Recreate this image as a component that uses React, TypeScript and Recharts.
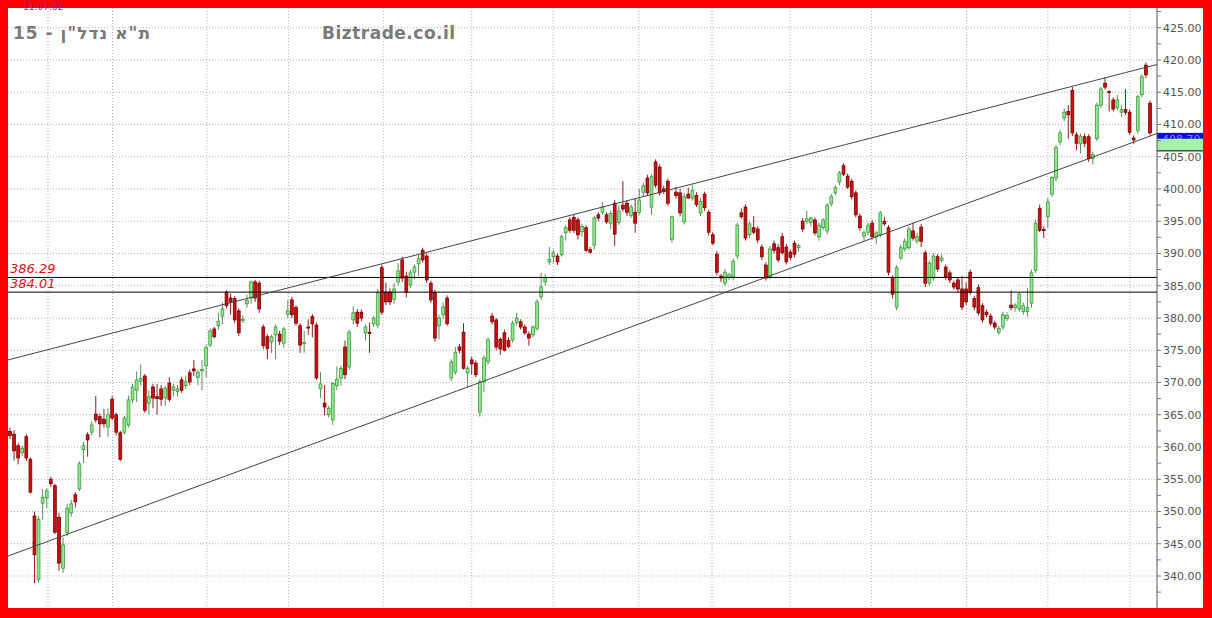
import {
  Bar,
  CartesianGrid,
  ComposedChart,
  ReferenceLine,
  XAxis,
  YAxis,
} from 'recharts'

// daily OHLC, grouped by month (between the vertical gridlines): [open, high, low, close]
type Ohlc = [number, number, number, number]

const seg00: Ohlc[] = [
  [362.4, 363.0, 361.2, 361.8], [362.0, 362.6, 357.9, 359.4], [360.2, 360.6, 357.3, 358.3],
  [359.1, 360.2, 358.6, 359.8], [361.6, 362.0, 357.8, 358.3], [358.1, 358.4, 352.8, 353.0],
  [349.3, 350.0, 338.9, 343.3], [339.5, 349.3, 339.0, 348.8], [351.3, 353.5, 348.7, 352.2],
  [352.1, 353.6, 350.5, 353.2],
]
const seg01: Ohlc[] = [
  [355.0, 355.4, 353.8, 354.3], [354.0, 354.3, 346.5, 346.8], [349.1, 349.8, 340.8, 342.0],
  [341.2, 346.0, 340.5, 344.8], [346.7, 351.2, 346.2, 350.5], [349.8, 351.8, 349.2, 351.2],
  [352.6, 353.0, 350.6, 351.5], [353.5, 357.8, 353.2, 357.4], [359.6, 360.8, 357.5, 360.2],
  [361.9, 362.3, 358.5, 361.1], [362.3, 364.0, 361.8, 363.4], [365.1, 367.9, 363.8, 364.2],
  [364.7, 365.2, 361.5, 363.6], [364.3, 365.9, 363.0, 363.6], [363.1, 366.0, 361.6, 365.0],
  [367.4, 367.9, 364.2, 364.5],
]
const seg02: Ohlc[] = [
  [365.0, 365.3, 361.8, 362.3], [362.2, 362.5, 357.8, 358.1], [362.3, 364.8, 361.9, 364.5],
  [363.4, 368.0, 363.0, 367.3], [367.3, 369.8, 366.8, 369.3], [368.8, 371.7, 367.0, 370.4],
  [370.2, 372.8, 369.5, 370.6], [371.0, 371.3, 365.3, 365.7], [366.8, 368.8, 365.0, 367.8],
  [369.3, 369.8, 366.0, 367.6], [367.8, 369.8, 365.0, 367.5], [369.0, 369.6, 366.4, 367.4],
  [367.6, 369.5, 366.4, 369.1], [369.9, 370.8, 367.0, 367.4], [368.8, 369.8, 367.8, 369.3],
  [368.6, 369.6, 367.8, 369.0], [370.4, 370.9, 368.4, 368.8], [369.5, 371.0, 369.0, 370.1],
  [371.5, 372.0, 369.6, 370.1], [372.1, 373.5, 371.0, 371.8], [370.8, 372.0, 369.6, 371.6],
  [371.8, 373.5, 368.8, 372.0], [372.6, 375.9, 370.8, 375.4],
]
const seg03: Ohlc[] = [
  [375.8, 378.4, 375.5, 378.0], [378.3, 378.6, 376.8, 377.1], [378.8, 380.8, 378.2, 379.5],
  [380.3, 382.4, 379.0, 381.4], [384.0, 384.3, 381.5, 381.9], [383.1, 383.8, 380.5, 382.5],
  [383.0, 383.4, 379.2, 379.7], [381.1, 381.5, 377.2, 377.7], [379.6, 380.4, 379.2, 379.8],
  [382.2, 383.6, 381.6, 382.7], [383.1, 385.8, 382.2, 385.6], [385.6, 385.9, 382.5, 383.1],
  [385.4, 385.8, 380.8, 381.4], [378.6, 379.0, 375.2, 375.7], [377.1, 377.5, 373.6, 375.3],
  [376.3, 377.4, 374.6, 377.1], [377.4, 379.0, 373.6, 378.6], [377.5, 378.0, 375.8, 376.4],
  [376.1, 378.6, 375.4, 378.3], [380.6, 382.8, 380.0, 381.1],
]
const seg04: Ohlc[] = [
  [382.8, 383.3, 380.0, 380.5], [381.6, 382.0, 378.8, 379.2], [378.8, 379.2, 374.6, 375.8],
  [376.0, 378.0, 374.6, 376.2], [378.6, 379.8, 377.4, 378.5], [380.2, 380.6, 377.0, 379.1],
  [378.9, 379.3, 370.4, 370.7], [369.0, 371.6, 367.6, 369.8], [366.8, 369.6, 364.9, 366.2],
  [365.0, 366.4, 364.6, 366.0], [364.2, 370.0, 363.4, 369.9], [369.5, 372.5, 368.8, 370.5],
  [370.7, 372.6, 369.5, 372.2], [375.5, 376.5, 370.5, 371.2], [372.4, 378.2, 372.0, 377.8],
  [379.7, 381.8, 379.0, 380.8], [380.9, 381.4, 378.6, 379.2], [380.9, 381.3, 379.5, 380.0],
  [377.7, 379.0, 376.5, 378.6], [377.8, 379.3, 374.6, 377.6], [379.1, 380.3, 378.6, 380.0],
  [378.9, 384.5, 378.4, 383.9], [387.8, 388.3, 380.5, 380.9],
]
const seg05: Ohlc[] = [
  [384.0, 385.5, 382.0, 382.5], [384.0, 384.6, 382.0, 382.5], [382.9, 385.4, 382.2, 384.5],
  [385.6, 388.5, 385.0, 387.3], [389.0, 389.5, 385.6, 386.2], [386.5, 387.2, 383.2, 384.0],
  [385.1, 387.5, 384.6, 387.0], [387.1, 388.3, 386.0, 387.9], [388.4, 389.8, 386.5, 389.2],
  [390.5, 390.9, 388.6, 389.0], [389.6, 390.1, 385.4, 385.9], [385.4, 385.8, 382.3, 382.8],
  [383.9, 384.4, 376.3, 376.9], [378.8, 380.5, 376.7, 380.0], [380.5, 382.4, 379.8, 381.7],
  [383.1, 383.5, 378.8, 379.1], [370.7, 373.6, 370.2, 373.2], [371.6, 375.5, 371.2, 374.7],
  [375.5, 376.0, 374.5, 375.0], [377.8, 379.2, 372.0, 372.2], [371.5, 372.6, 369.2, 372.2],
]
const seg06: Ohlc[] = [
  [373.5, 374.0, 371.2, 372.9], [373.0, 373.4, 370.8, 371.2], [365.4, 370.5, 364.7, 370.1],
  [370.1, 374.2, 368.5, 373.8], [373.2, 377.0, 372.8, 376.6], [380.3, 380.8, 379.0, 379.4],
  [379.7, 380.0, 375.0, 375.5], [376.7, 377.0, 374.3, 375.2], [377.7, 378.2, 374.8, 375.0],
  [376.5, 377.0, 375.3, 375.6], [376.6, 379.6, 376.2, 379.2], [379.3, 380.8, 378.8, 380.0],
  [379.4, 379.8, 378.2, 378.6], [378.6, 379.0, 377.4, 377.7], [377.5, 377.9, 375.7, 376.9],
  [377.4, 378.9, 377.0, 378.6], [378.4, 382.9, 378.0, 382.5], [383.3, 387.0, 382.8, 384.8],
  [385.6, 386.8, 385.0, 386.2], [388.7, 391.0, 388.2, 389.1],
]
const seg07: Ohlc[] = [
  [389.5, 390.6, 388.5, 390.1], [389.6, 390.0, 388.2, 388.7], [389.8, 392.9, 389.5, 392.6],
  [393.2, 394.4, 392.0, 394.0], [395.2, 395.6, 393.2, 393.6], [395.6, 396.0, 393.2, 393.6],
  [395.2, 395.6, 392.2, 392.9], [393.4, 394.6, 392.6, 394.2], [394.0, 394.4, 390.2, 390.5],
  [390.6, 391.0, 390.0, 390.2], [391.3, 395.8, 390.6, 395.5], [396.0, 396.4, 395.0, 395.5],
  [396.4, 398.0, 396.0, 397.2], [396.0, 396.4, 394.6, 394.9], [394.7, 396.6, 393.8, 396.2],
  [397.8, 398.3, 391.2, 393.0], [394.8, 397.5, 394.4, 396.6], [397.5, 401.2, 396.5, 396.9],
  [397.8, 398.2, 395.8, 396.4], [395.9, 397.6, 395.5, 397.2], [396.4, 398.5, 393.2, 394.7],
]
const seg08: Ohlc[] = [
  [396.4, 400.0, 396.0, 398.3], [399.5, 401.0, 398.8, 400.5], [401.7, 402.2, 399.0, 399.4],
  [397.2, 402.3, 396.0, 401.9], [404.2, 404.6, 400.2, 400.6], [403.4, 403.8, 399.0, 399.4],
  [400.0, 400.5, 399.2, 399.6], [401.2, 401.6, 397.4, 397.8], [392.2, 395.9, 391.7, 395.7],
  [399.5, 400.3, 398.5, 399.0], [399.4, 400.0, 395.8, 396.3], [394.9, 399.3, 394.5, 398.8],
  [399.2, 400.2, 398.5, 398.6], [398.6, 400.6, 398.2, 399.8], [399.0, 399.5, 397.2, 397.6],
  [396.3, 398.6, 395.8, 398.1], [399.2, 399.6, 396.6, 397.1], [396.4, 396.8, 392.8, 393.3],
]
const seg09: Ohlc[] = [
  [392.9, 393.3, 391.3, 391.6], [389.9, 390.4, 386.6, 387.1], [386.5, 386.8, 385.6, 386.2],
  [385.4, 387.6, 385.0, 387.1], [386.3, 387.0, 385.9, 386.7], [386.4, 389.2, 385.8, 388.8],
  [389.6, 394.7, 389.2, 394.4], [396.3, 397.0, 395.4, 395.7], [397.2, 397.6, 392.0, 392.4],
  [392.9, 395.0, 392.4, 394.6], [394.0, 395.8, 393.0, 393.3], [393.8, 394.2, 391.6, 392.1],
  [391.0, 391.4, 389.0, 389.5], [388.2, 388.6, 385.8, 386.2], [386.4, 391.2, 386.0, 390.7],
  [391.5, 392.0, 390.0, 390.5], [390.9, 391.5, 388.6, 389.0], [392.6, 393.2, 389.8, 390.1],
  [391.0, 391.5, 388.3, 388.7],
]
const seg10: Ohlc[] = [
  [390.2, 390.6, 389.0, 389.4], [391.6, 392.0, 389.4, 389.9], [390.9, 391.5, 390.3, 391.2],
  [395.0, 395.5, 393.3, 393.8], [395.0, 396.6, 394.5, 395.4], [394.8, 395.7, 394.2, 395.5],
  [395.2, 395.6, 392.8, 393.2], [392.6, 394.8, 392.0, 394.4], [394.0, 395.5, 393.6, 395.2],
  [393.5, 397.8, 393.0, 397.5], [397.7, 399.2, 397.3, 398.8], [399.4, 400.6, 399.0, 400.2],
  [401.1, 402.8, 400.6, 402.5], [403.6, 404.0, 402.0, 402.3], [402.0, 402.4, 400.0, 400.3],
  [401.2, 401.6, 398.4, 398.8], [399.4, 399.8, 395.6, 396.0], [395.8, 396.2, 393.5, 394.0],
  [392.7, 393.6, 392.0, 393.2], [393.3, 394.8, 392.8, 394.4],
]
const seg11: Ohlc[] = [
  [394.7, 395.2, 392.2, 392.6], [392.6, 393.5, 391.5, 393.2], [392.9, 396.6, 392.5, 396.3],
  [395.0, 395.7, 394.3, 394.6], [394.0, 394.4, 386.6, 387.1], [386.2, 386.6, 383.0, 383.7],
  [381.7, 388.2, 381.2, 387.8], [389.3, 391.4, 389.0, 390.9], [390.7, 392.4, 390.3, 391.9],
  [390.9, 394.2, 390.5, 393.8], [393.5, 394.8, 392.0, 392.4], [391.9, 393.2, 391.5, 392.6],
  [394.1, 394.6, 391.0, 391.9], [390.1, 390.5, 384.8, 385.4], [385.4, 388.9, 385.0, 388.5],
  [386.2, 390.0, 385.8, 389.6], [389.5, 389.9, 387.2, 387.6], [388.9, 389.9, 388.6, 389.3],
  [387.9, 388.3, 385.9, 386.4], [387.0, 387.4, 385.4, 385.9], [385.4, 385.8, 384.4, 384.8],
  [385.9, 386.3, 384.0, 384.5], [384.5, 386.5, 381.2, 381.7], [384.5, 385.5, 382.0, 382.5],
]
const seg12: Ohlc[] = [
  [387.1, 387.5, 383.6, 384.0], [383.0, 383.4, 381.2, 381.7], [384.7, 385.2, 380.4, 380.8],
  [381.9, 382.3, 379.3, 379.7], [380.9, 381.3, 380.1, 380.5], [380.3, 380.7, 378.8, 379.2],
  [379.2, 379.6, 378.2, 378.6], [377.8, 378.8, 377.4, 378.4], [378.6, 381.0, 378.2, 380.5],
  [379.9, 380.9, 379.5, 380.4], [382.0, 384.3, 381.2, 381.6], [381.6, 382.3, 381.0, 382.0],
  [381.4, 384.0, 380.9, 383.7], [381.0, 382.4, 380.5, 381.9], [381.0, 384.6, 380.2, 381.6],
  [382.3, 387.5, 381.6, 387.0], [387.4, 395.2, 387.0, 394.7], [397.0, 397.6, 393.3, 393.6],
  [393.7, 394.2, 392.4, 393.6], [395.7, 398.6, 394.0, 398.0],
]
const seg13: Ohlc[] = [
  [399.2, 402.0, 398.8, 401.8], [401.7, 406.8, 401.2, 406.4], [407.3, 409.2, 406.8, 408.7],
  [411.0, 412.5, 410.5, 411.9], [412.0, 413.0, 407.8, 411.5], [415.3, 415.8, 408.2, 408.7],
  [408.4, 408.8, 406.0, 407.1], [407.0, 408.6, 405.5, 408.2], [408.1, 408.6, 406.5, 407.1],
  [408.1, 408.5, 404.2, 404.7], [404.7, 405.8, 403.8, 405.3], [407.8, 413.4, 407.4, 413.0],
  [413.0, 415.8, 412.6, 415.5], [416.4, 417.3, 415.4, 415.8], [415.1, 415.3, 412.0, 415.0],
  [413.8, 414.2, 412.0, 412.4], [412.6, 414.6, 412.2, 413.8], [411.9, 413.0, 411.2, 412.3],
  [412.3, 415.5, 411.5, 411.9], [411.9, 412.3, 408.4, 408.8],
]
const seg14: Ohlc[] = [
  [407.9, 408.3, 407.0, 407.6], [409.1, 414.6, 408.6, 414.3], [414.6, 417.8, 414.2, 417.4],
  [419.2, 419.6, 417.2, 417.7], [413.3, 413.7, 408.3, 408.7],
]

// month boundaries (candle index) and price levels
const monthLines = [9.3, 25.1, 48.2, 68.2, 91.3, 113.0, 132.9, 153.9, 171.8, 190.9, 210.8, 234.1, 254.0, 274.1]
const priceGrid = [340, 345, 350, 355, 360, 365, 370, 375, 380, 385, 390, 395, 400, 405, 410, 415, 420, 425]
const yTicks = [
  337.5, 340, 342.5, 345, 347.5, 350, 352.5, 355, 357.5, 360, 362.5, 365, 367.5, 370, 372.5, 375,
  377.5, 380, 382.5, 385, 387.5, 390, 392.5, 395, 397.5, 400, 402.5, 405, 407.5, 410, 412.5, 415,
  417.5, 420, 422.5, 425, 427.5,
]
const levels = [386.29, 384.01]
const upperTrend = [373.5, 419.3]
const lowerTrend = [343.1, 408.6]
const xDomain: [number, number] = [-0.49, 280.7]
const yDomain: [number, number] = [335.04, 428.06]

const rows = [
  ...seg00, ...seg01, ...seg02, ...seg03, ...seg04, ...seg05, ...seg06, ...seg07,
  ...seg08, ...seg09, ...seg10, ...seg11, ...seg12, ...seg13, ...seg14,
].map((q, i) => ({ i, o: q[0], h: q[1], l: q[2], c: q[3] }))

const lastClose = rows[rows.length - 1].c
const FONT = '"DejaVu Sans", Verdana, sans-serif'

function Candle(props: any) {
  const { x, y, width, height, payload } = props
  if (payload == null) return null
  const { o, h, l, c } = payload
  const top = Math.min(y, y + height)
  const span = Math.abs(height)
  const k = h - l > 0 ? span / (h - l) : 0
  const cx = x + width / 2
  const yo = top + (h - o) * k
  const yc = top + (h - c) * k
  const up = c >= o
  const bodyTop = Math.min(yo, yc)
  const bodyH = Math.max(1, Math.abs(yc - yo))
  const fill = up ? '#90e890' : '#cc1010'
  const stroke = up ? '#3d9a3d' : '#7a0000'
  return (
    <g>
      <line x1={cx} x2={cx} y1={top} y2={top + span} stroke={up ? '#5a8f5a' : '#8a2020'} strokeWidth={1} />
      <rect x={cx - 1.4} y={bodyTop} width={2.8} height={bodyH} fill={fill} stroke={stroke} strokeWidth={0.8} />
    </g>
  )
}

function LevelLabel(props: any) {
  const { viewBox, text } = props
  if (!viewBox) return null
  return (
    <text x={viewBox.x + 2} y={viewBox.y - 4} fill="#e01010" fontSize={13} fontStyle="italic" fontFamily={FONT}>
      {text}
    </text>
  )
}

function PriceTag(props: any) {
  const { viewBox } = props
  if (!viewBox) return null
  const x0 = viewBox.x + viewBox.width
  const y0 = viewBox.y
  return (
    <g>
      <rect x={x0} y={y0} width={46} height={6} fill="#1010d0" />
      <text x={x0 + 5} y={y0 + 10} fill="#7d7dff" fontSize={11} fontFamily={FONT}>
        {lastClose.toFixed(2)}
      </text>
      <rect x={x0} y={y0 + 6} width={46} height={12} fill="#a8f0a8" />
      <line x1={x0} x2={x0 + 46} y1={y0 + 18} y2={y0 + 18} stroke="#000" />
    </g>
  )
}

export default function App() {
  return (
    <div style={{ position: 'absolute', left: 0, top: 0, width: 1212, height: 618, background: '#ff0000' }}>
      <div style={{ position: 'absolute', left: 8, top: 8, width: 1195, height: 600, background: '#ffffff' }}>
        <ComposedChart width={1195} height={600} data={rows} margin={{ top: 0, right: 0, bottom: 0, left: 0 }}>
          <CartesianGrid
            stroke="#b4b4b4"
            strokeDasharray="1 2"
            verticalValues={monthLines}
            horizontalValues={priceGrid}
          />
          <XAxis dataKey="i" type="number" domain={xDomain} allowDataOverflow hide />
          <YAxis
            orientation="right"
            width={46}
            domain={yDomain}
            allowDataOverflow
            ticks={yTicks}
            interval={0}
            tickSize={4}
            tickMargin={2}
            tickFormatter={(v: number) => (v % 5 === 0 ? v.toFixed(2) : '')}
            tick={{ fill: '#555', fontSize: 11, fontFamily: FONT }}
            axisLine={{ stroke: '#555' }}
            tickLine={{ stroke: '#777' }}
          />
          <Bar dataKey={(d: any) => [d.l, d.h]} barSize={4} shape={Candle} isAnimationActive={false} />
          {levels.map((v) => (
            <ReferenceLine key={v} y={v} stroke="#000" strokeWidth={1} label={<LevelLabel text={v.toFixed(2)} />} />
          ))}
          <ReferenceLine
            segment={[{ x: xDomain[0], y: upperTrend[0] }, { x: xDomain[1], y: upperTrend[1] }]}
            stroke="#444"
            strokeWidth={1}
          />
          <ReferenceLine
            segment={[{ x: xDomain[0], y: lowerTrend[0] }, { x: xDomain[1], y: lowerTrend[1] }]}
            stroke="#444"
            strokeWidth={1}
          />
          <ReferenceLine y={lastClose} stroke="none" label={<PriceTag />} />
        </ComposedChart>
      </div>
      <svg width={1212} height={618} style={{ position: 'absolute', left: 0, top: 0, pointerEvents: 'none' }}>
        <text x={23} y={10} fill="#7a2a9a" fontSize={9} fontFamily={FONT}>
          11:07:02
        </text>
        <text x={13} y={39} fill="#7a7a7a" fontSize={17} fontWeight="bold" fontFamily={FONT} letterSpacing={1}>
          15 - ת"א נדל"ן
        </text>
        <text x={322} y={39} fill="#7a7a7a" fontSize={17} fontWeight="bold" fontFamily={FONT} letterSpacing={0.5}>
          Biztrade.co.il
        </text>
      </svg>
    </div>
  )
}
